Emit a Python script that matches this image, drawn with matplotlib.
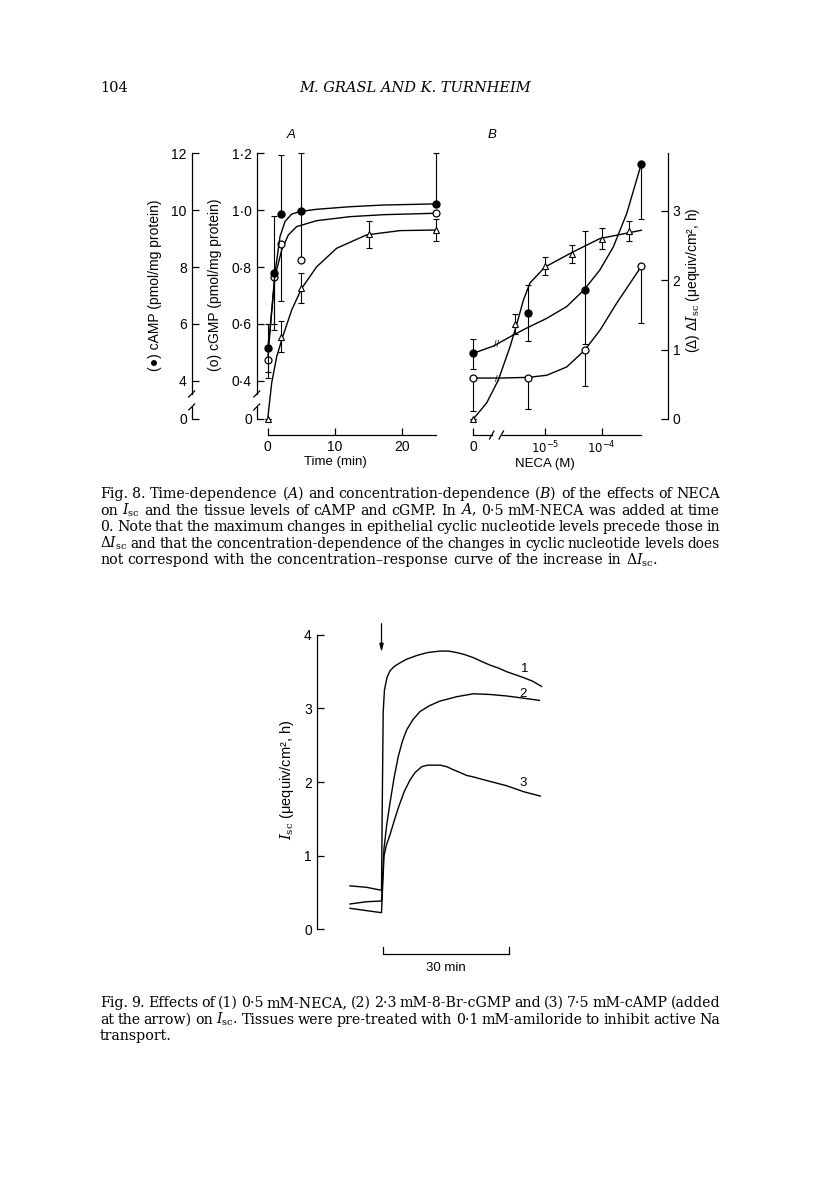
import matplotlib
matplotlib.use('Agg')
import matplotlib.pyplot as plt
import numpy as np

plt.rcParams['font.family'] = ['Liberation Sans', 'DejaVu Sans']
plt.rcParams['mathtext.fontset'] = 'dejavuserif'

W, H = 816, 1181

# ---------------- Fig. 8A : time course (min) ----------------
camp_t = [0, 1, 2, 5, 25]
camp = [5.15, 7.8, 9.88, 9.97, 10.22]          # pmol/mg protein
camp_lo = [0.85, 2.0, 0, 0, 0]
camp_hi = [0.85, 2.0, 2.06, 2.03, 1.78]
cgmp_t = [0, 1, 2, 5, 25]
cgmp = [0.473, 0.766, 0.88, 0.825, 0.989]      # pmol/mg protein
cgmp_lo = [0.062, 0.166, 0.2, 0, 0]
cgmp_hi = [0, 0, 0, 0.17, 0]
disc_t = [0, 2, 5, 15, 25]
disc_a = [0, 0.555, 0.725, 0.915, 0.93]        # drawn against the cGMP scale
disc_a_err = [0, 0.054, 0.053, 0.047, 0.04]

camp_fit_t = [0, 0.34, 1.08, 1.83, 2.57, 3.56, 4.8, 7.28, 12.2, 17.2, 24.9]
camp_fit = [5.15, 5.79, 7.78, 9.07, 9.6, 9.86, 9.95, 10.03, 10.12, 10.18, 10.22]
cgmp_fit_t = [0, 0.44, 1.08, 2.08, 3.07, 4.3, 7.28, 12.2, 17.2, 24.9]
cgmp_fit = [0.473, 0.602, 0.766, 0.86, 0.913, 0.942, 0.963, 0.977, 0.984, 0.989]
disc_fit_t = [0, 0.59, 1.34, 2.23, 3.57, 5.05, 7.28, 10.25, 14.7, 19.66, 24.9]
disc_fit = [0, 0.376, 0.485, 0.555, 0.649, 0.725, 0.801, 0.866, 0.913, 0.928, 0.93]

# ---------------- Fig. 8B : NECA concentration (M) ----------------
ZERO_LOG = -6.265                              # where "0" sits on the log axis
neca_c = [0, 5e-6, 5e-5, 5e-4]
camp_b = [0.947, 1.53, 1.86, 3.68]
camp_b_lo = [0.22, 0.40, 0.78, 0.80]
camp_b_hi = [0.21, 0.40, 0.85, 0]
cgmp_b = [0.59, 0.59, 0.99, 2.2]
cgmp_b_lo = [0.47, 0.44, 0.51, 0.81]
tri_c = [0, 3e-6, 1e-5, 3e-5, 1e-4, 3e-4]
disc_b = [0, 1.37, 2.2, 2.38, 2.6, 2.71]
disc_b_err = [0, 0.15, 0.13, 0.13, 0.145, 0.145]

camp_b_fit_x = [-6.265, -5.912, -5.559, -5.323, -4.97, -4.617, -4.312, -4.03, -3.795, -3.559, -3.30]
camp_b_fit = [0.947, 1.05, 1.21, 1.31, 1.45, 1.62, 1.86, 2.15, 2.48, 2.96, 3.68]
cgmp_b_fit_x = [-6.265, -5.794, -5.294, -4.97, -4.617, -4.301, -4.03, -3.735, -3.30]
cgmp_b_fit = [0.59, 0.59, 0.6, 0.63, 0.75, 0.99, 1.28, 1.67, 2.2]
disc_b_fit_x = [-6.265, -6.03, -5.824, -5.617, -5.5, -5.382, -5.265, -5.0, -4.5, -4.03, -3.30]
disc_b_fit = [0, 0.23, 0.56, 1.04, 1.36, 1.71, 1.96, 2.19, 2.41, 2.6, 2.72]

# ---------------- Fig. 9 : Isc traces (min after addition) ----------------
t1 = [-7.5, -3.5, 0.0, 0.2, 0.4, 0.7, 1.3, 2.0, 3.0, 4.4, 6.0, 8.4, 11.0, 13.9, 15.9, 17.9,
      19.9, 21.9, 23.8, 25.8, 27.8, 29.8, 31.8, 33.8, 36.0, 38.1]
i1 = [0.59, 0.57, 0.53, 1.8, 2.95, 3.25, 3.42, 3.51, 3.57, 3.62, 3.67, 3.72, 3.76, 3.78, 3.78, 3.76,
      3.73, 3.69, 3.64, 3.59, 3.55, 3.50, 3.46, 3.42, 3.37, 3.30]
t2 = [-7.5, -3.5, 0.0, 0.6, 1.2, 2.0, 3.0, 4.0, 5.0, 6.0, 7.5, 9.2, 11.5, 13.9, 17.9, 21.9,
      25.8, 29.8, 33.8, 37.6]
i2 = [0.344, 0.375, 0.384, 1.1, 1.4, 1.71, 2.06, 2.35, 2.56, 2.71, 2.85, 2.96, 3.04, 3.10, 3.16, 3.20,
      3.19, 3.17, 3.14, 3.11]
t3 = [-7.5, -3.5, 0.0, 0.6, 1.2, 2.0, 3.0, 4.0, 5.4, 6.8, 8.0, 9.6, 11.0, 12.4, 14.0, 15.5, 17.0,
      18.7, 20.3, 21.9, 23.8, 25.8, 27.8, 29.8, 31.8, 33.8, 35.8, 37.8]
i3 = [0.285, 0.253, 0.226, 1.0, 1.15, 1.28, 1.47, 1.65, 1.87, 2.03, 2.13, 2.21, 2.23, 2.23, 2.23, 2.21, 2.17,
      2.13, 2.09, 2.07, 2.04, 2.01, 1.98, 1.95, 1.91, 1.87, 1.84, 1.81]
trace_names = ['1', '2', '3']
arrow_t = 0
bar_minutes = 30

# ------------------------------------------------------------------
fig = plt.figure(figsize=(W / 100, H / 100), dpi=100)

def fx(px):
    return px / W

def fy(py):
    return 1 - py / H

def axes_px(left, top, right, bottom):
    return fig.add_axes([fx(left), fy(bottom), (right - left) / W, (bottom - top) / H])

def fig_line(xs, ys, lw=0.9):
    fig.add_artist(plt.Line2D([fx(v) for v in xs], [fy(v) for v in ys], color='k', lw=lw))

LW = 0.9
tick_kw = dict(direction='in', length=5, width=LW, labelsize=10, pad=3.5)

# axis break on the left scale (compress below 0.4)
K = 0.3365
def fwd(y):
    y = np.asarray(y, float)
    return np.where(y >= 0.4, y, 0.4 - (0.4 - y) * K)

def inv(u):
    u = np.asarray(u, float)
    return np.where(u >= 0.4, u, 0.4 - (0.4 - u) / K)

# ---- panel A ----
axA = axes_px(256.7, 140, 445, 419)
axA.set_yscale('function', functions=(fwd, inv))
axA.set_xlim(-1.634, 26.34)
axA.set_ylim(0, 1.2467)
for s in ['top', 'right']:
    axA.spines[s].set_visible(False)
axA.patch.set_visible(False)
axA.spines['left'].set_bounds(0.26, 1.2)
axA.spines['bottom'].set_position(('axes', -16 / 279))
axA.spines['bottom'].set_bounds(0, 25)
for s in axA.spines.values():
    s.set_linewidth(LW)
axA.set_yticks([0, 0.4, 0.6, 0.8, 1.0, 1.2])
axA.set_yticklabels(['0', '0·4', '0·6', '0·8', '1·0', '1·2'])
axA.set_xticks([0, 10, 20])
axA.set_xticklabels(['0', '10', '20'])
axA.yaxis.set_minor_locator(matplotlib.ticker.NullLocator())
axA.tick_params(**tick_kw)

axA2 = axes_px(256.7, 140, 445, 419)
axA2.set_yscale('function', functions=(lambda y: fwd(np.asarray(y) / 10), lambda u: inv(u) * 10))
axA2.set_xlim(axA.get_xlim())
axA2.set_ylim(0, 12.467)
axA2.patch.set_visible(False)
for s in ['top', 'right', 'bottom']:
    axA2.spines[s].set_visible(False)
axA2.spines['left'].set_position(('axes', -65 / 188.3))
axA2.spines['left'].set_bounds(2.6, 12)
axA2.spines['left'].set_linewidth(LW)
axA2.set_xticks([])
axA2.set_yticks([0, 4, 6, 8, 10, 12])
axA2.set_yticklabels(['0', '4', '6', '8', '10', '12'])
axA2.yaxis.set_minor_locator(matplotlib.ticker.NullLocator())
axA2.tick_params(**tick_kw)

# break marks and lower spine pieces
for sx in [256.7, 191.7]:
    fig_line([sx, sx], [407, 419])
    fig_line([sx - 3, sx + 3], [397, 391])
    fig_line([sx - 3, sx + 3], [410, 404])

err_kw = dict(fmt='none', ecolor='k', elinewidth=0.8, capsize=2.2, capthick=0.8, clip_on=False)
axA.plot(cgmp_fit_t, cgmp_fit, color='k', lw=1.0, clip_on=False)
axA.plot(disc_fit_t, disc_fit, color='k', lw=1.0, clip_on=False)
axA2.plot(camp_fit_t, camp_fit, color='k', lw=1.0, clip_on=False)
axA.errorbar(cgmp_t, cgmp, yerr=[cgmp_lo, cgmp_hi], **err_kw)
axA.errorbar(disc_t, disc_a, yerr=disc_a_err, **err_kw)
axA2.errorbar(camp_t, camp, yerr=[camp_lo, camp_hi], **err_kw)
axA.plot(cgmp_t, cgmp, 'o', ms=5, mfc='white', mec='k', mew=0.9, clip_on=False, zorder=5)
axA.plot(disc_t, disc_a, '^', ms=4.5, mfc='white', mec='k', mew=0.8, clip_on=False, zorder=5)
axA2.plot(camp_t, camp, 'o', ms=5, mfc='k', mec='k', clip_on=False, zorder=5)

fig.text(fx(155), fy(285), '(●) cAMP (pmol/mg protein)', rotation=90, ha='center', va='center', fontsize=10)
fig.text(fx(215), fy(285), '(o) cGMP (pmol/mg protein)', rotation=90, ha='center', va='center', fontsize=10)
fig.text(fx(335), fy(462), 'Time (min)', ha='center', va='center', fontsize=9.5)
fig.text(fx(291), fy(135), 'A', ha='center', va='center', fontsize=9.5, style='italic')

# ---- panel B ----
def conc_pos(c):
    c = np.asarray(c, float)
    return np.where(c > 0, np.log10(np.where(c > 0, c, 1)), ZERO_LOG)

axB = axes_px(460, 140, 667.7, 419)
axB.set_xlim(-6.499, -2.836)
axB.set_ylim(0, 4.02)
axB.patch.set_visible(False)
for s in ['top', 'left']:
    axB.spines[s].set_visible(False)
axB.spines['right'].set_bounds(0, 3.83)
axB.spines['bottom'].set_position(('axes', -16 / 279))
axB.spines['bottom'].set_bounds(-5.764, -3.30)
for s in axB.spines.values():
    s.set_linewidth(LW)
axB.yaxis.tick_right()
axB.set_yticks([0, 1, 2, 3])
axB.set_yticklabels(['0', '1', '2', '3'])
axB.set_xticks([ZERO_LOG, -5, -4])
axB.set_xticklabels(['0', r'$\mathsf{10^{-5}}$', r'$\mathsf{10^{-4}}$'])
axB.tick_params(**tick_kw)
for lab in axB.get_xticklabels()[1:]:
    lab.set_fontsize(8.5)
fig_line([473.3, 491.7], [435, 435])
fig_line([489.5, 494], [439, 431])
fig_line([499, 503.5], [439, 431])

axB.plot(camp_b_fit_x, camp_b_fit, color='k', lw=1.0, clip_on=False)
axB.plot(cgmp_b_fit_x, cgmp_b_fit, color='k', lw=1.0, clip_on=False)
axB.plot(disc_b_fit_x, disc_b_fit, color='k', lw=1.0, clip_on=False)
axB.errorbar(conc_pos(neca_c), camp_b, yerr=[camp_b_lo, camp_b_hi], **err_kw)
axB.errorbar(conc_pos(neca_c), cgmp_b, yerr=[cgmp_b_lo, [0] * 4], **err_kw)
axB.errorbar(conc_pos(tri_c), disc_b, yerr=disc_b_err, **err_kw)
axB.plot(conc_pos(neca_c), cgmp_b, 'o', ms=5, mfc='white', mec='k', mew=0.9, clip_on=False, zorder=5)
axB.plot(conc_pos(tri_c), disc_b, '^', ms=4.5, mfc='white', mec='k', mew=0.8, clip_on=False, zorder=5)
axB.plot(conc_pos(neca_c), camp_b, 'o', ms=5, mfc='k', mec='k', clip_on=False, zorder=5)
# break marks on the curves
for bx, by in [(-5.86, 1.07), (-5.83, 0.575)]:
    axB.text(bx, by, '//', ha='center', va='center', fontsize=6.5)

fig.text(fx(693), fy(280), r'(Δ) Δ$I_{\mathrm{sc}}$ (μequiv/cm², h)', rotation=90, ha='center', va='center', fontsize=10)
fig.text(fx(545), fy(464), 'NECA (M)', ha='center', va='center', fontsize=9.5)
fig.text(fx(491.7), fy(135), 'B', ha='center', va='center', fontsize=9.5, style='italic')

# ---- Fig. 9 ----
axC = axes_px(316.7, 615, 560, 929.3)
axC.set_xlim(-15.43, 42.5)
axC.set_ylim(0, 4.27)
axC.patch.set_visible(False)
for s in ['top', 'right', 'bottom']:
    axC.spines[s].set_visible(False)
axC.spines['left'].set_bounds(0, 4)
axC.spines['left'].set_linewidth(LW)
axC.set_xticks([])
axC.set_yticks([0, 1, 2, 3, 4])
axC.tick_params(**tick_kw)
for tt, ii in [(t1, i1), (t2, i2), (t3, i3)]:
    axC.plot(tt, ii, color='k', lw=1.0)
for name, tt, ii, dy in zip(trace_names, [t1, t2, t3], [i1, i2, i3], [0.12, 0.06, 0.12]):
    axC.text(tt[-1] - 4, np.interp(tt[-1] - 4, tt, ii) + dy, name, ha='center', va='center', fontsize=9.5)
axC.annotate('', xy=(arrow_t, 3.73), xytext=(arrow_t, 4.19), annotation_clip=False,
             arrowprops=dict(arrowstyle='-|>,head_length=0.45,head_width=0.12', color='k', lw=0.9))
axC.plot([0.4, 0.4, 0.4 + bar_minutes, 0.4 + bar_minutes], [-0.24, -0.336, -0.336, -0.24],
         color='k', lw=0.9, clip_on=False)
axC.text(0.4 + bar_minutes / 2, -0.525, '%d min' % bar_minutes, ha='center', va='center', fontsize=9.5)
fig.text(fx(287), fy(780), r'$I_{\mathrm{sc}}$ (μequiv/cm², h)', rotation=90, ha='center', va='center', fontsize=10.5)

# ---- page text ----
SERIF = 'DejaVu Serif'
fig.text(fx(100), fy(88), '104', ha='left', va='center', fontsize=10.5, family=SERIF)
fig.text(fx(415), fy(88), 'M. GRASL AND K. TURNHEIM', ha='center', va='center', fontsize=10.5,
         family=SERIF, style='italic')

cap8 = ["Fig. 8. Time-dependence ($A$) and concentration-dependence ($B$) of the effects of NECA",
        "on $I_{\\mathrm{sc}}$ and the tissue levels of cAMP and cGMP. In $A$, 0·5 mM-NECA was added at time",
        "0. Note that the maximum changes in epithelial cyclic nucleotide levels precede those in",
        "$\\Delta{I}_{\\mathrm{sc}}$ and that the concentration-dependence of the changes in cyclic nucleotide levels does",
        "not correspond with the concentration–response curve of the increase in $\\Delta{I}_{\\mathrm{sc}}$."]
cap9 = ["Fig. 9. Effects of (1) 0·5 mM-NECA, (2) 2·3 mM-8-Br-cGMP and (3) 7·5 mM-cAMP (added",
        "at the arrow) on $I_{\\mathrm{sc}}$. Tissues were pre-treated with 0·1 mM-amiloride to inhibit active Na",
        "transport."]

renderer = fig.canvas.get_renderer()

def justified(lines, x0, x1, y0, dy, size):
    for k, line in enumerate(lines):
        words = line.split(' ')
        s = size
        while True:
            texts = [fig.text(0, fy(y0 + k * dy), w, fontsize=s, family=SERIF, va='baseline') for w in words]
            widths = [t.get_window_extent(renderer).width for t in texts]
            last = k == len(lines) - 1
            gap = 0.3 * s * 100 / 72 if last else (x1 - x0 - sum(widths)) / (len(words) - 1)
            if last or gap >= 0.2 * s * 100 / 72 or s < 7:
                break
            for t in texts:
                t.remove()
            s -= 0.1
        x = x0
        for t, w in zip(texts, widths):
            t.set_x(fx(x))
            x += w + gap

justified(cap8, 100, 720, 498, 16.6, 10.2)
justified(cap9, 100, 720, 1007, 16.6, 10.2)

fig.savefig('out.png', dpi=100)
